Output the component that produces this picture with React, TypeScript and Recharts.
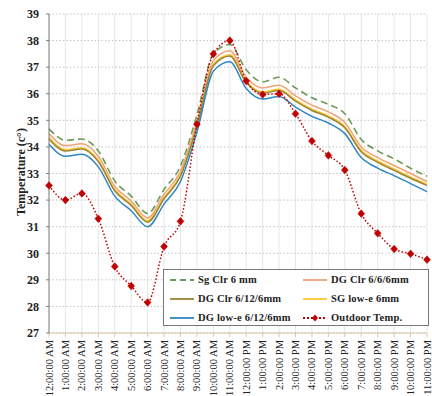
import React from "react";
import {
  LineChart,
  Line,
  XAxis,
  YAxis,
  CartesianGrid,
  Legend,
} from "recharts";

const hours = [
  "12:00:00 AM", "1:00:00 AM", "2:00:00 AM", "3:00:00 AM", "4:00:00 AM", "5:00:00 AM",
  "6:00:00 AM", "7:00:00 AM", "8:00:00 AM", "9:00:00 AM", "10:00:00 AM", "11:00:00 AM",
  "12:00:00 PM", "1:00:00 PM", "2:00:00 PM", "3:00:00 PM", "4:00:00 PM", "5:00:00 PM",
  "6:00:00 PM", "7:00:00 PM", "8:00:00 PM", "9:00:00 PM", "10:00:00 PM", "11:00:00 PM",
];

const sgClr = [34.68, 34.25, 34.3, 33.85, 32.72, 32.15, 31.5, 32.4, 33.28, 35.2, 37.5, 37.85, 36.9, 36.45, 36.62, 36.22, 35.85, 35.6, 35.25, 34.28, 33.85, 33.55, 33.2, 32.9];
const dgClr666 = [34.5, 34.05, 34.12, 33.65, 32.52, 31.97, 31.33, 32.22, 33.08, 34.95, 37.25, 37.62, 36.62, 36.22, 36.32, 35.92, 35.57, 35.32, 34.92, 34.0, 33.6, 33.3, 33.0, 32.7];
const dgClr6126 = [34.3, 33.85, 33.92, 33.45, 32.35, 31.8, 31.17, 32.05, 32.9, 34.75, 37.05, 37.42, 36.42, 36.02, 36.12, 35.72, 35.37, 35.12, 34.72, 33.82, 33.42, 33.12, 32.82, 32.55];
const sgLowE = [34.35, 33.9, 33.97, 33.5, 32.4, 31.85, 31.22, 32.1, 32.95, 34.8, 37.1, 37.47, 36.47, 36.07, 36.17, 35.77, 35.42, 35.17, 34.77, 33.87, 33.47, 33.17, 32.87, 32.6];
const dgLowE = [34.1, 33.65, 33.72, 33.25, 32.15, 31.6, 31.0, 31.85, 32.7, 34.55, 36.85, 37.2, 36.2, 35.8, 35.9, 35.5, 35.15, 34.9, 34.5, 33.6, 33.2, 32.92, 32.62, 32.32];
const outdoor = [32.55, 32.0, 32.25, 31.3, 29.5, 28.77, 28.15, 30.25, 31.2, 34.85, 37.5, 38.0, 36.48, 35.97, 36.0, 35.25, 34.22, 33.68, 33.13, 31.49, 30.75, 30.16, 29.98, 29.76];

const yTicks = [27, 28, 29, 30, 31, 32, 33, 34, 35, 36, 37, 38, 39];

const data = hours.map((time, i) => ({
  time,
  sgClr: sgClr[i],
  dgClr666: dgClr666[i],
  dgClr6126: dgClr6126[i],
  sgLowE: sgLowE[i],
  dgLowE: dgLowE[i],
  outdoor: outdoor[i],
}));

const FONT = "'Liberation Serif', 'Times New Roman', serif";
const RED = "#C00000";

const legendItems = [
  { label: "Sg Clr 6 mm", color: "#6F9A55", dash: "6 4", diamond: false },
  { label: "DG Clr 6/6/6mm", color: "#EFA475", dash: undefined, diamond: false },
  { label: "DG Clr 6/12/6mm", color: "#9C8435", dash: undefined, diamond: false },
  { label: "SG low-e 6mm", color: "#FFC62E", dash: undefined, diamond: false },
  { label: "DG low-e 6/12/6mm", color: "#2F86C0", dash: undefined, diamond: false },
  { label: "Outdoor Temp.", color: RED, dash: "2 2", diamond: true },
];

const Diamond = (props: any) => {
  const { cx, cy } = props;
  if (cx == null || cy == null) return null;
  return (
    <polygon
      points={`${cx},${cy - 3.8} ${cx + 3.4},${cy} ${cx},${cy + 3.8} ${cx - 3.4},${cy}`}
      fill={RED}
      stroke={RED}
      strokeWidth={0.6}
    />
  );
};

const TimeTick = (props: any) => {
  const { x, y, payload } = props;
  return (
    <text
      x={x}
      y={y}
      transform={`rotate(-90 ${x} ${y})`}
      textAnchor="end"
      dominantBaseline="central"
      style={{ fontFamily: FONT, fontSize: 10.5 }}
      fill="#222"
    >
      {payload.value}
    </text>
  );
};

const LegendBox = () => (
  <div
    style={{
      boxSizing: "border-box",
      width: 266,
      height: 57,
      border: "1px solid #777",
      background: "#fff",
      display: "grid",
      gridTemplateColumns: "133px 1fr",
      gridAutoRows: "19px",
      paddingLeft: 6,
      fontFamily: FONT,
      fontWeight: "bold",
      fontSize: 10.5,
      color: "#222",
    }}
  >
    {legendItems.map((it) => (
      <div key={it.label} style={{ display: "flex", alignItems: "center" }}>
        <svg width={24} height={10} style={{ marginRight: 4 }}>
          <line x1={0} y1={5} x2={24} y2={5} stroke={it.color} strokeWidth={1.8} strokeDasharray={it.dash} />
          {it.diamond && <polygon points="12,1.5 15,5 12,8.5 9,5" fill={RED} />}
        </svg>
        <span style={{ whiteSpace: "nowrap", letterSpacing: 0.2 }}>{it.label}</span>
      </div>
    ))}
  </div>
);

export default function App() {
  return (
    <div style={{ position: "absolute", left: 0, top: 0, background: "#fff" }}>
      <LineChart
        width={432}
        height={396}
        data={data}
        margin={{ top: 14, right: 5, left: 8, bottom: 0 }}
      >
        <CartesianGrid horizontal={false} stroke="#e6e6e6" />
        <CartesianGrid vertical={false} stroke="#c4c4c4" strokeDasharray="1.5 2" />
        <XAxis
          dataKey="time"
          interval={0}
          height={63}
          tick={<TimeTick />}
          tickSize={4}
          tickMargin={3}
          axisLine={{ stroke: "#dcc6a6" }}
          tickLine={{ stroke: "#dcc6a6" }}
        />
        <YAxis
          domain={[27, 39]}
          ticks={yTicks}
          interval={0}
          width={41}
          tickSize={3}
          tickMargin={7}
          axisLine={{ stroke: "#808080" }}
          tickLine={{ stroke: "#808080" }}
          tick={{ style: { fontFamily: FONT, fontSize: 12, fontWeight: "bold" }, fill: "#222" }}
          label={{
            content: () => (
              <text
                x={21}
                y={172}
                transform="rotate(-90 21 172)"
                textAnchor="middle"
                dominantBaseline="central"
                style={{ fontFamily: FONT, fontSize: 12, fontWeight: "bold" }}
                fill="#222"
              >
                Temperature (c°)
              </text>
            ),
          }}
        />
        <Legend
          layout="horizontal"
          verticalAlign="middle"
          align="center"
          wrapperStyle={{ left: 163, top: 269, width: 266, height: 57 }}
          content={() => <LegendBox />}
        />
        <Line type="monotone" dataKey="sgLowE" stroke="#FFC62E" strokeWidth={1.5} dot={false} isAnimationActive={false} />
        <Line type="monotone" dataKey="sgClr" stroke="#6F9A55" strokeWidth={1.6} strokeDasharray="7 4" dot={false} isAnimationActive={false} />
        <Line type="monotone" dataKey="dgClr666" stroke="#EFA475" strokeWidth={1.5} dot={false} isAnimationActive={false} />
        <Line type="monotone" dataKey="dgClr6126" stroke="#9C8435" strokeWidth={1.5} dot={false} isAnimationActive={false} />
        <Line type="monotone" dataKey="dgLowE" stroke="#2F86C0" strokeWidth={1.5} dot={false} isAnimationActive={false} />
        <Line
          type="monotone"
          dataKey="outdoor"
          stroke={RED}
          strokeWidth={1.5}
          strokeDasharray="1.5 2"
          dot={<Diamond />}
          isAnimationActive={false}
        />
      </LineChart>
    </div>
  );
}
